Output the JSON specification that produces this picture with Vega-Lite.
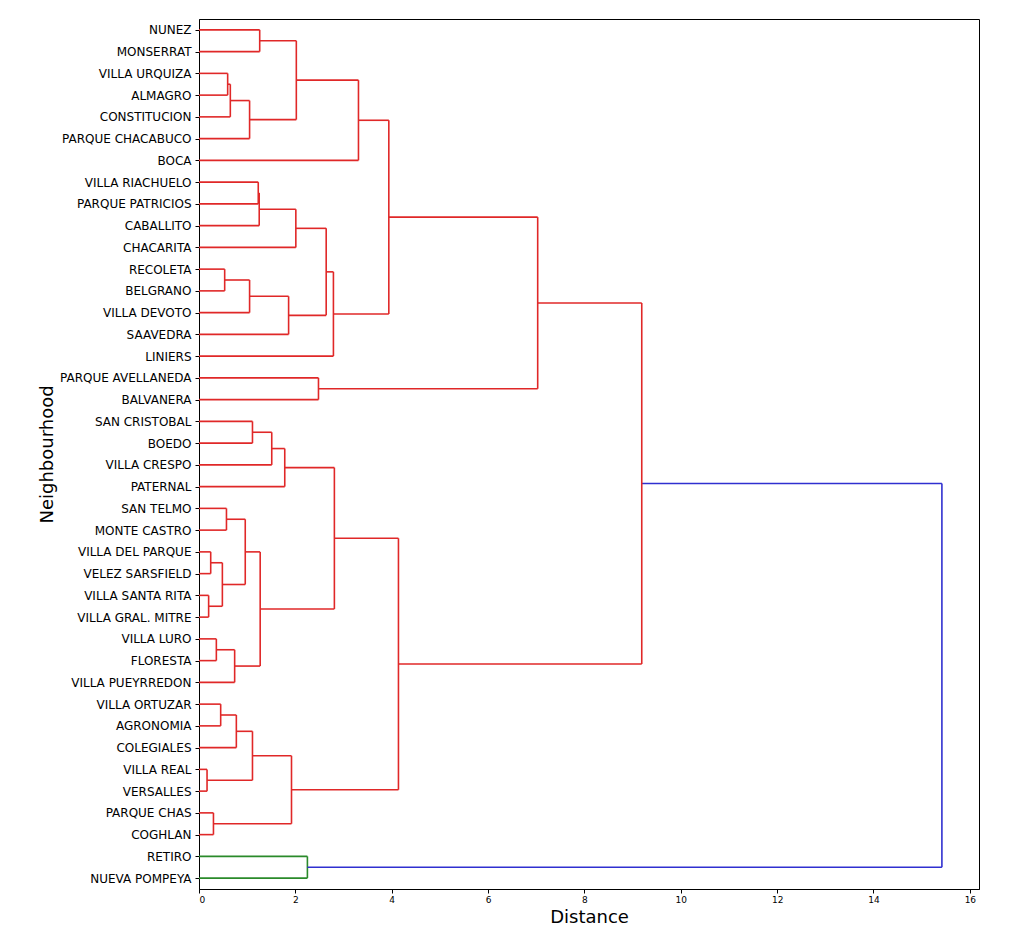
{
  "$schema": "https://vega.github.io/schema/vega-lite/v6.json",
  "width": 780,
  "height": 870,
  "padding": {"left": 38, "top": 19, "right": 5, "bottom": 5},
  "background": "white",
  "data": {
    "values": [
      {"c1": 0, "p1": 0, "c2": 0, "p2": 1, "h": 1.26, "cluster": "C1"},
      {"c1": 0, "p1": 2, "c2": 0, "p2": 3, "h": 0.595, "cluster": "C1"},
      {"c1": 0.595, "p1": 2.5, "c2": 0, "p2": 4, "h": 0.65, "cluster": "C1"},
      {"c1": 0.65, "p1": 3.25, "c2": 0, "p2": 5, "h": 1.05, "cluster": "C1"},
      {"c1": 1.26, "p1": 0.5, "c2": 1.05, "p2": 4.125, "h": 2.02, "cluster": "C1"},
      {"c1": 2.02, "p1": 2.3125, "c2": 0, "p2": 6, "h": 3.31, "cluster": "C1"},
      {"c1": 0, "p1": 7, "c2": 0, "p2": 8, "h": 1.23, "cluster": "C1"},
      {"c1": 1.23, "p1": 7.5, "c2": 0, "p2": 9, "h": 1.25, "cluster": "C1"},
      {"c1": 1.25, "p1": 8.25, "c2": 0, "p2": 10, "h": 2.01, "cluster": "C1"},
      {"c1": 0, "p1": 11, "c2": 0, "p2": 12, "h": 0.533, "cluster": "C1"},
      {"c1": 0.533, "p1": 11.5, "c2": 0, "p2": 13, "h": 1.05, "cluster": "C1"},
      {"c1": 1.05, "p1": 12.25, "c2": 0, "p2": 14, "h": 1.86, "cluster": "C1"},
      {"c1": 2.01, "p1": 9.125, "c2": 1.86, "p2": 13.125, "h": 2.64, "cluster": "C1"},
      {"c1": 2.64, "p1": 11.125, "c2": 0, "p2": 15, "h": 2.79, "cluster": "C1"},
      {"c1": 3.31, "p1": 4.15625, "c2": 2.79, "p2": 13.0625, "h": 3.94, "cluster": "C1"},
      {"c1": 0, "p1": 16, "c2": 0, "p2": 17, "h": 2.48, "cluster": "C1"},
      {"c1": 3.94, "p1": 8.609375, "c2": 2.48, "p2": 16.5, "h": 7.03, "cluster": "C1"},
      {"c1": 0, "p1": 18, "c2": 0, "p2": 19, "h": 1.11, "cluster": "C1"},
      {"c1": 1.11, "p1": 18.5, "c2": 0, "p2": 20, "h": 1.51, "cluster": "C1"},
      {"c1": 1.51, "p1": 19.25, "c2": 0, "p2": 21, "h": 1.78, "cluster": "C1"},
      {"c1": 0, "p1": 22, "c2": 0, "p2": 23, "h": 0.57, "cluster": "C1"},
      {"c1": 0, "p1": 24, "c2": 0, "p2": 25, "h": 0.243, "cluster": "C1"},
      {"c1": 0, "p1": 26, "c2": 0, "p2": 27, "h": 0.2, "cluster": "C1"},
      {"c1": 0.243, "p1": 24.5, "c2": 0.2, "p2": 26.5, "h": 0.485, "cluster": "C1"},
      {"c1": 0.57, "p1": 22.5, "c2": 0.485, "p2": 25.5, "h": 0.96, "cluster": "C1"},
      {"c1": 0, "p1": 28, "c2": 0, "p2": 29, "h": 0.36, "cluster": "C1"},
      {"c1": 0.36, "p1": 28.5, "c2": 0, "p2": 30, "h": 0.74, "cluster": "C1"},
      {"c1": 0.96, "p1": 24, "c2": 0.74, "p2": 29.25, "h": 1.27, "cluster": "C1"},
      {"c1": 1.78, "p1": 20.125, "c2": 1.27, "p2": 26.625, "h": 2.81, "cluster": "C1"},
      {"c1": 0, "p1": 31, "c2": 0, "p2": 32, "h": 0.45, "cluster": "C1"},
      {"c1": 0.45, "p1": 31.5, "c2": 0, "p2": 33, "h": 0.775, "cluster": "C1"},
      {"c1": 0, "p1": 34, "c2": 0, "p2": 35, "h": 0.167, "cluster": "C1"},
      {"c1": 0.775, "p1": 32.25, "c2": 0.167, "p2": 34.5, "h": 1.11, "cluster": "C1"},
      {"c1": 0, "p1": 36, "c2": 0, "p2": 37, "h": 0.3, "cluster": "C1"},
      {"c1": 1.11, "p1": 33.375, "c2": 0.3, "p2": 36.5, "h": 1.92, "cluster": "C1"},
      {"c1": 2.81, "p1": 23.375, "c2": 1.92, "p2": 34.9375, "h": 4.14, "cluster": "C1"},
      {"c1": 7.03, "p1": 12.5546875, "c2": 4.14, "p2": 29.15625, "h": 9.19, "cluster": "C1"},
      {"c1": 0, "p1": 38, "c2": 0, "p2": 39, "h": 2.25, "cluster": "C2"},
      {"c1": 9.19, "p1": 20.85546875, "c2": 2.25, "p2": 38.5, "h": 15.42, "cluster": "above"}
    ]
  },
  "encoding": {
    "color": {
      "field": "cluster",
      "type": "nominal",
      "scale": {"domain": ["C1", "C2", "above"], "range": ["#e02828", "#2a8a2a", "#3030d0"]},
      "legend": null
    }
  },
  "layer": [
    {
      "mark": {"type": "rule", "strokeWidth": 1.6},
      "encoding": {
        "x": {"field": "c1", "type": "quantitative", "title": "Distance",
              "scale": {"domain": [0, 16.19], "nice": false, "zero": false},
              "axis": {"values": [0, 2, 4, 6, 8, 10, 12, 14, 16], "labelFontSize": 9, "labelPadding": 2, "titlePadding": 4}},
        "x2": {"field": "h"},
        "y": {"field": "p1", "type": "quantitative", "title": "Neighbourhood",
              "scale": {"domain": [-0.5, 39.5], "nice": false, "zero": false, "reverse": true},
              "axis": {"values": [0,1,2,3,4,5,6,7,8,9,10,11,12,13,14,15,16,17,18,19,20,21,22,23,24,25,26,27,28,29,30,31,32,33,34,35,36,37,38,39], "tickCount": 40,
                       "labelExpr": "['NUNEZ','MONSERRAT','VILLA URQUIZA','ALMAGRO','CONSTITUCION','PARQUE CHACABUCO','BOCA','VILLA RIACHUELO','PARQUE PATRICIOS','CABALLITO','CHACARITA','RECOLETA','BELGRANO','VILLA DEVOTO','SAAVEDRA','LINIERS','PARQUE AVELLANEDA','BALVANERA','SAN CRISTOBAL','BOEDO','VILLA CRESPO','PATERNAL','SAN TELMO','MONTE CASTRO','VILLA DEL PARQUE','VELEZ SARSFIELD','VILLA SANTA RITA','VILLA GRAL. MITRE','VILLA LURO','FLORESTA','VILLA PUEYRREDON','VILLA ORTUZAR','AGRONOMIA','COLEGIALES','VILLA REAL','VERSALLES','PARQUE CHAS','COGHLAN','RETIRO','NUEVA POMPEYA'][datum.value]",
                       "labelFontSize": 12, "labelPadding": 4, "titlePadding": 3, "labelOverlap": false}}
      }
    },
    {
      "mark": {"type": "rule", "strokeWidth": 1.6},
      "encoding": {
        "x": {"field": "h", "type": "quantitative", "title": "Distance"},
        "y": {"field": "p1", "type": "quantitative", "title": "Neighbourhood"},
        "y2": {"field": "p2"}
      }
    },
    {
      "mark": {"type": "rule", "strokeWidth": 1.6},
      "encoding": {
        "x": {"field": "c2", "type": "quantitative", "title": "Distance"},
        "x2": {"field": "h"},
        "y": {"field": "p2", "type": "quantitative", "title": "Neighbourhood"}
      }
    }
  ],
  "config": {
    "font": "DejaVu Sans",
    "view": {"stroke": "black", "strokeWidth": 1},
    "axis": {"grid": false, "domainColor": "black", "tickColor": "black", "labelColor": "black", "titleColor": "black", "titleFontWeight": "normal", "labelFont": "DejaVu Sans", "titleFont": "DejaVu Sans", "tickSize": 4, "titleFontSize": 18},
    "axisY": {"tickCount": 40, "labelOverlap": false}
  }
}
